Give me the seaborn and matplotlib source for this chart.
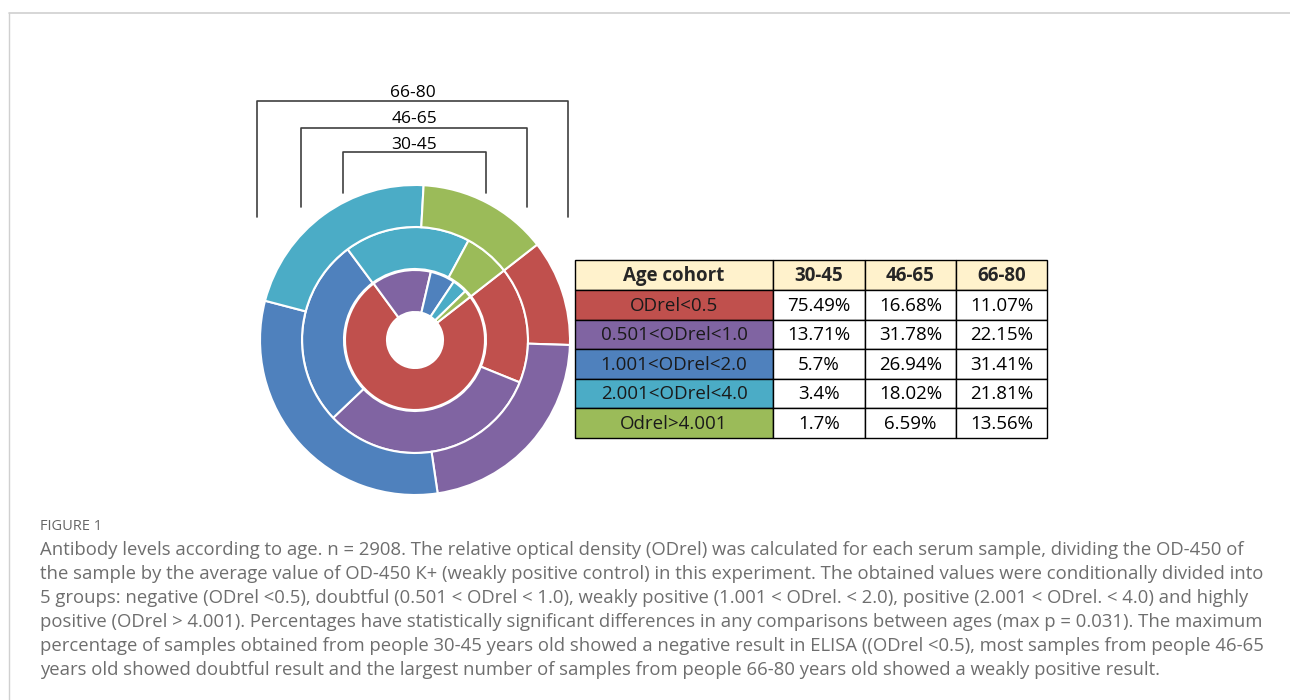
import numpy as np
import pandas as pd
import seaborn as sns
import matplotlib.pyplot as plt
from matplotlib.patches import Rectangle

sns.set_theme(style="white")
plt.rcParams['font.family'] = ['Open Sans', 'DejaVu Sans']

# data
groups = ['ODrel<0.5', '0.501<ODrel<1.0', '1.001<ODrel<2.0', '2.001<ODrel<4.0', 'Odrel>4.001']
cohorts = ['30-45', '46-65', '66-80']
pct_30_45 = [75.49, 13.71, 5.7, 3.4, 1.7]
pct_46_65 = [16.68, 31.78, 26.94, 18.02, 6.59]
pct_66_80 = [11.07, 22.15, 31.41, 21.81, 13.56]
pct_labels = [['75.49%', '16.68%', '11.07%'],
              ['13.71%', '31.78%', '22.15%'],
              ['5.7%', '26.94%', '31.41%'],
              ['3.4%', '18.02%', '21.81%'],
              ['1.7%', '6.59%', '13.56%']]

colors = sns.color_palette(['#C0504D', '#8064A2', '#4F81BD', '#4BACC6', '#9BBB59'])

caption_title = 'FIGURE 1'
caption_lines = [
    'Antibody levels according to age. n = 2908. The relative optical density (ODrel) was calculated for each serum sample, dividing the OD-450 of',
    'the sample by the average value of OD-450 К+ (weakly positive control) in this experiment. The obtained values were conditionally divided into',
    '5 groups: negative (ODrel <0.5), doubtful (0.501 < ODrel < 1.0), weakly positive (1.001 < ODrel. < 2.0), positive (2.001 < ODrel. < 4.0) and highly',
    'positive (ODrel > 4.001). Percentages have statistically significant differences in any comparisons between ages (max p = 0.031). The maximum',
    'percentage of samples obtained from people 30-45 years old showed a negative result in ELISA ((ODrel <0.5), most samples from people 46-65',
    'years old showed doubtful result and the largest number of samples from people 66-80 years old showed a weakly positive result.',
]

W, H = 1290, 700
fig = plt.figure(figsize=(W / 100, H / 100), dpi=100)

# overlay axes in pixel coordinates
ov = fig.add_axes([0, 0, 1, 1])
ov.set_xlim(0, W)
ov.set_ylim(H, 0)
ov.axis('off')

# nested donut (axes in pixel units, center at 415,340)
cx, cy, half = 415, 340, 160
ax = fig.add_axes([(cx - half) / W, (H - cy - half) / H, 2 * half / W, 2 * half / H])
rings = [(pct_30_45, 70), (pct_46_65, 113), (pct_66_80, 155)]
for vals, r in rings:
    ax.pie(vals, radius=r, colors=colors, startangle=38, counterclock=False,
           wedgeprops=dict(width=42, edgecolor='white', linewidth=1.5))
ax.set_xlim(-half, half)
ax.set_ylim(-half, half)
ax.set_aspect('equal')
ax.axis('off')

# brackets above the donut
brackets = [(343, 486, 152, 193, 145), (301, 527, 128, 207, 119), (257, 568, 101, 217, 93)]
for lab, (x0, x1, yt, yb, ty) in zip(cohorts, brackets):
    ov.plot([x0, x0, x1, x1], [yb, yt, yt, yb], color='#404040', lw=1.2)
    ov.text((x0 + x1) / 2, ty, lab, ha='center', va='center', fontsize=12.5, color='black')

# table
col_x = [575, 773, 865, 956, 1047]
row_y = [260, 290, 319.5, 349, 378.5, 408, 438]
header = ['Age cohort'] + cohorts
for j in range(4):
    ov.add_patch(Rectangle((col_x[j], row_y[0]), col_x[j + 1] - col_x[j], row_y[1] - row_y[0],
                           facecolor='#FFF2CC', edgecolor='black', lw=1))
    ov.text((col_x[j] + col_x[j + 1]) / 2, (row_y[0] + row_y[1]) / 2 + 1, header[j],
            ha='center', va='center', fontsize=13.5, fontweight='bold')
for i, g in enumerate(groups):
    y0, y1 = row_y[i + 1], row_y[i + 2]
    ov.add_patch(Rectangle((col_x[0], y0), col_x[1] - col_x[0], y1 - y0,
                           facecolor=colors[i], edgecolor='black', lw=1))
    ov.text((col_x[0] + col_x[1]) / 2, (y0 + y1) / 2 + 1, g, ha='center', va='center',
            fontsize=13.5, color='#1a1a1a')
    for j in range(3):
        ov.add_patch(Rectangle((col_x[j + 1], y0), col_x[j + 2] - col_x[j + 1], y1 - y0,
                               facecolor='white', edgecolor='black', lw=1))
        ov.text((col_x[j + 1] + col_x[j + 2]) / 2, (y0 + y1) / 2 + 1, pct_labels[i][j],
                ha='center', va='center', fontsize=13.5, color='black')

# frame lines
ov.plot([9, W], [13, 13], color='#d0d0d0', lw=1.2)
ov.plot([9, 9], [13, H], color='#d0d0d0', lw=1)

# caption
ov.text(40, 527, caption_title, ha='left', va='center', fontsize=10.5, color='#666666')
for k, line in enumerate(caption_lines):
    ov.text(40, 550 + 24 * k, line, ha='left', va='center', fontsize=13.3, color='#6e6e6e')

fig.savefig('out.png', dpi=100, facecolor='white')
